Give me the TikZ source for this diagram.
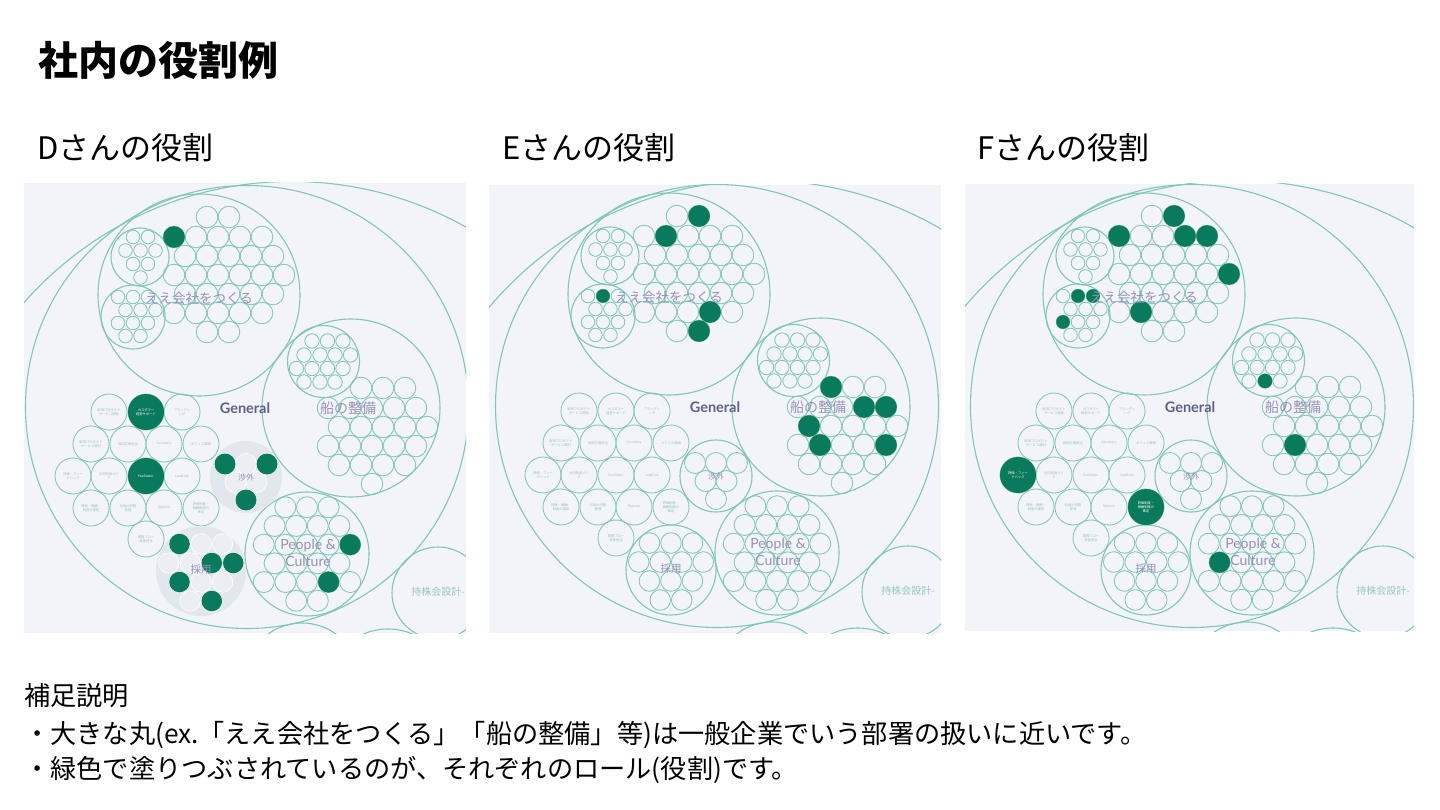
\documentclass[tikz,border=0pt]{standalone}
\usepackage{fontspec}
\setmainfont{Noto Sans CJK JP}
\newfontfamily\lato{Lato}
\definecolor{bg}{RGB}{243,243,250}
\definecolor{ln}{RGB}{128,199,180}
\definecolor{gr}{RGB}{10,122,92}
\definecolor{lab}{RGB}{146,148,180}
\definecolor{gen}{RGB}{92,98,135}
\definecolor{hold}{RGB}{150,200,188}
\definecolor{tinyc}{RGB}{150,195,185}
\definecolor{fog}{RGB}{226,230,237}
\definecolor{fog2}{RGB}{236,238,244}
\tikzset{
  bigc/.style={draw=ln, line width=1.1pt},
  sm/.style={draw=ln, line width=0.85pt},
  ghost/.style={fill=fog2, draw=white, line width=0.6pt},
  lbl/.style={text=lab, inner sep=0pt},
  tinytxt/.style={text=tinyc, font=\fontsize{3.3}{3.9}\selectfont, align=center, text width=26pt, inner sep=0pt},
  head/.style={anchor=west, inner sep=0pt, font=\fontsize{31}{31}\selectfont},
  note/.style={anchor=west, inner sep=0pt, font=\fontsize{26.2}{26.2}\selectfont},
}
\newcommand\crow[3]{\foreach \xx in {#3}{\draw[sm] (\xx,#1) circle[radius=#2pt];}}
\newcommand\gdot[3]{\fill[gr] (#1,#2) circle[radius=#3pt];}
\newcommand\lnode[3]{\draw[sm] (#1,#2) circle[radius=18pt]; \node[tinytxt] at (#1,#2) {#3};}
\newcommand\lfill[3]{\fill[gr] (#1,#2) circle[radius=18pt]; \node[tinytxt,text=white] at (#1,#2) {#3};}
\newcommand\basepack{%
  \draw[bigc] (761.5,536.5) circle[radius=356pt];
  \draw[bigc] (717,406) circle[radius=221.5pt];
  \draw[bigc] (908,592) circle[radius=46pt];
  \draw[bigc] (772,680) circle[radius=58pt];
  \draw[bigc] (858,690) circle[radius=62pt];
  % ee kaisha
  \draw[bigc] (669,294) circle[radius=101pt];
  \draw[bigc] (610,256) circle[radius=29pt];
  \draw[bigc] (603,316) circle[radius=32pt];
  \crow{236}{6.8}{603,618}
  \crow{249.5}{6.8}{595.5,610.5,625.5}
  \crow{263}{6.8}{603,618}
  \crow{276.5}{6.8}{610.5}
  \crow{296}{6.8}{588,603,618}
  \crow{309}{6.8}{595.5,610.5,625.5}
  \crow{322}{6.8}{588,603,618}
  \crow{335}{6.8}{595.5,610.5}
  \crow{216}{10.8}{677,699}
  \crow{236}{10.8}{644,666,688,710,732}
  \crow{255}{10.8}{655,677,699,721,743}
  \crow{274}{10.8}{644,666,688,710,732,754}
  \crow{293}{10.8}{655,677,699,721,743}
  \crow{312}{10.8}{644,666,688,710,732}
  \crow{331}{10.8}{677,699}
  % ship
  \draw[bigc] (821,407) circle[radius=89pt];
  \draw[bigc] (793.5,360.5) circle[radius=36pt];
  \crow{340}{7.2}{782,797.5,813}
  \crow{354}{7.2}{774,790,805,820.5}
  \crow{367.5}{7.2}{766.5,782,797.5,813}
  \crow{381}{7.2}{774,790,805}
  \crow{387}{10.8}{831,853,875}
  \crow{407}{10.8}{798,820,842,864,886}
  \crow{426}{10.8}{809,831,853,875,897}
  \crow{445}{10.8}{798,820,842,864,886}
  \crow{464}{10.8}{809,831,853,875}
  \crow{483}{10.8}{842}
  % people & culture
  \draw[bigc] (777,553) circle[radius=62pt];
  \crow{506.25}{10.5}{755.4,777,798.6}
  \crow{524.95}{10.5}{744.6,766.2,787.8,809.4}
  \crow{543.65}{10.5}{733.8,755.4,777,798.6,820.2}
  \crow{562.35}{10.5}{744.6,766.2,787.8,809.4}
  \crow{581.05}{10.5}{733.8,755.4,777,798.6,820.2}
  \crow{599.75}{10.5}{766.2,787.8}
  % left cluster
  \lnode{579}{411}{新規プロダクト\\サービス開発}
  \lnode{616}{411}{カスタマー\\経営サポート}
  \lnode{652}{411}{ブランディ\\ング}
  \lnode{561}{443}{新規プロダクト\\サービス検討}
  \lnode{598}{443}{採用広報担当}
  \lnode{634}{443}{Secretary}
  \lnode{671}{443}{オフィス環境}
  \lnode{543}{475}{評価・フィー\\ドバック}
  \lnode{579}{475}{社内制度づく\\り}
  \lnode{616}{475}{Facilitator}
  \lnode{652}{475}{LeadLink}
  \lnode{561}{507}{評価・報酬・\\制度の運用}
  \lnode{598}{507}{社員の労務\\管理}
  \lnode{634}{507}{RepLink}
  \lnode{671}{507}{評価制度・\\報酬制度の\\策定}
  \lnode{616}{538}{業務フロー\\改善担当}
}
\newcommand\shogaiN{%
  \draw[bigc] (716,476) circle[radius=36pt];
  \crow{463}{10.5}{695,716,737}
  \crow{481}{10.5}{705.5,726.5}
  \crow{499}{10.5}{716}
}
\newcommand\shogaiG{%
  \fill[fog] (716,476) circle[radius=36pt];
  \foreach \p in {(695,463),(716,463),(737,463),(705.5,481),(726.5,481),(716,499)} {\draw[ghost] \p circle[radius=10.5pt];}
}
\newcommand\saiyoN{%
  \draw[bigc] (671,570) circle[radius=45pt];
  \crow{543}{10.3}{649.5,671,692.5}
  \crow{562}{10.3}{638.75,660.25,681.75,703.25}
  \crow{581}{10.3}{649.5,671,692.5}
  \crow{600}{10.3}{660.25,681.75}
}
\newcommand\saiyoG{%
  \fill[fog] (671,570) circle[radius=45pt];
  \foreach \p in {(649.5,543),(671,543),(692.5,543),(638.75,562),(660.25,562),(681.75,562),(703.25,562),(649.5,581),(671,581),(692.5,581),(660.25,600),(681.75,600)} {\draw[ghost] \p circle[radius=10.3pt];}
}
\newcommand\packlabels{%
  \node[text=gen, inner sep=0pt, font=\lato\bfseries\fontsize{14.5}{14.5}\selectfont] at (715,407) {General};
  \node[lbl, font=\fontsize{13.5}{13.5}\selectfont] at (669,297) {ええ会社をつくる};
  \node[lbl, font=\fontsize{14}{14}\selectfont] at (818,407) {船の整備};
  \node[lbl, font=\lato\fontsize{14}{17}\selectfont, align=center] at (778,552) {People \&\\Culture};
  \node[lbl, font=\fontsize{10.5}{10.5}\selectfont] at (671,569) {採用};
  \node[lbl, font=\fontsize{8}{8}\selectfont] at (716,476) {渉外};
  \node[text=hold, inner sep=0pt, font=\fontsize{10}{10}\selectfont] at (908,591) {持株会設計-};
}
\begin{document}
\begin{tikzpicture}[x=1pt,y=-1pt]
\useasboundingbox (0,0) rectangle (1440,810);
\fill[white] (0,0) rectangle (1440,810);
\node[anchor=west, inner sep=0pt, font=\fontsize{40}{40}\selectfont\bfseries] (title) at (38,60) {社内の役割例};
\node[head] (hD) at (37,148) {Dさんの役割};
\node[head] (hE) at (502,148) {Eさんの役割};
\node[head] (hF) at (977,148) {Fさんの役割};
% ---------- panel D
\begin{scope}
  \fill[bg] (24,183) rectangle (466,633);
  \clip (24,183) rectangle (466,633);
  \begin{scope}[shift={(-470,1)}]
    \basepack
    \shogaiG
    \saiyoG
    \gdot{644}{236}{10.8}
    \lfill{616}{411}{カスタマー\\経営サポート}
    \lfill{616}{475}{Facilitator}
    \gdot{695}{463}{10.5}
    \gdot{737}{463}{10.5}
    \gdot{716}{499}{10.5}
    \gdot{649.5}{543}{10.3}
    \gdot{681.75}{562}{10.3}
    \gdot{703.25}{562}{10.3}
    \gdot{649.5}{581}{10.3}
    \gdot{681.75}{600}{10.3}
    \gdot{820.2}{543.65}{10.5}
    \gdot{798.6}{581.05}{10.5}
    \packlabels
  \end{scope}
\end{scope}
% ---------- panel E
\begin{scope}
  \fill[bg] (489,185) rectangle (941,633);
  \clip (489,185) rectangle (941,633);
  \basepack
  \shogaiN
  \saiyoN
  \gdot{699}{216}{10.8}
  \gdot{666}{236}{10.8}
  \gdot{710}{312}{10.8}
  \gdot{699}{331}{10.8}
  \gdot{603}{296}{6.8}
  \gdot{831}{387}{10.8}
  \gdot{864}{407}{10.8}
  \gdot{886}{407}{10.8}
  \gdot{809}{426}{10.8}
  \gdot{820}{445}{10.8}
  \gdot{886}{445}{10.8}
  \packlabels
\end{scope}
% ---------- panel F
\begin{scope}
  \fill[bg] (965,184) rectangle (1414,631);
  \clip (965,184) rectangle (1414,631);
  \begin{scope}[shift={(475,0)}]
    \basepack
    \shogaiN
    \saiyoN
    \gdot{699}{216}{10.8}
    \gdot{644}{236}{10.8}
    \gdot{710}{236}{10.8}
    \gdot{732}{236}{10.8}
    \gdot{754}{274}{10.8}
    \gdot{666}{312}{10.8}
    \gdot{603}{296}{6.8}
    \gdot{618}{296}{6.8}
    \gdot{588}{322}{6.8}
    \gdot{790}{381}{7.2}
    \gdot{820}{445}{10.8}
    \lfill{543}{475}{評価・フィー\\ドバック}
    \lfill{671}{507}{評価制度・\\報酬制度の\\策定}
    \gdot{744.6}{562.35}{10.5}
    \packlabels
  \end{scope}
\end{scope}
% ---------- notes
\node[note] (n0) at (24,696) {補足説明};
\node[note] (n1) at (24,735) {・大きな丸(ex.「ええ会社をつくる」「船の整備」等)は一般企業でいう部署の扱いに近いです。};
\node[note] (n2) at (24,770) {・緑色で塗りつぶされているのが、それぞれのロール(役割)です。};
\end{tikzpicture}
\end{document}
